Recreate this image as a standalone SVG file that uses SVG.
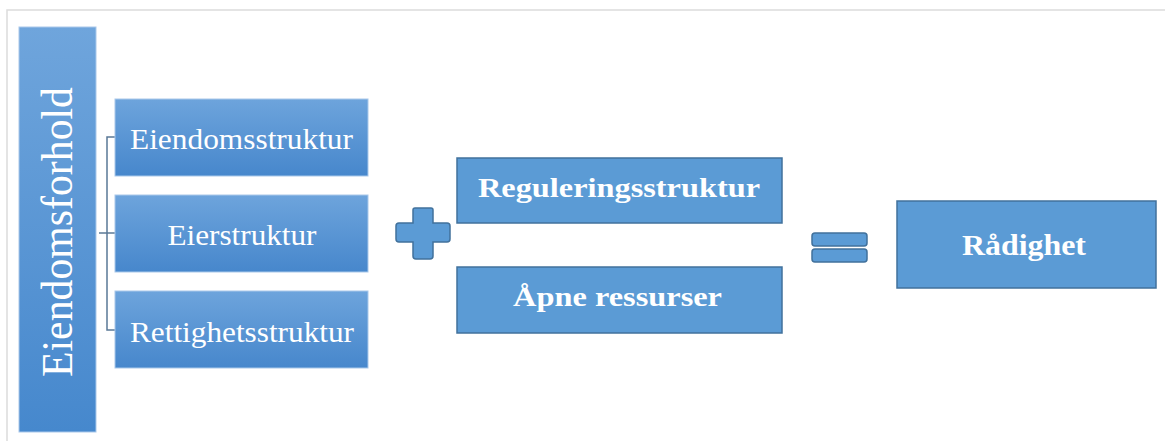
<svg xmlns="http://www.w3.org/2000/svg" width="1165" height="441" viewBox="0 0 1165 441">
<defs>
<linearGradient id="gv" x1="0" y1="0" x2="0" y2="1">
<stop offset="0" stop-color="#6fa5dc"/>
<stop offset="1" stop-color="#4688cd"/>
</linearGradient>
<linearGradient id="gb" x1="0" y1="0" x2="0" y2="1">
<stop offset="0" stop-color="#6da4dc"/>
<stop offset="1" stop-color="#4787cc"/>
</linearGradient>
<style>
.frame{stroke:#dcdcdc;stroke-width:1.5;fill:none}
.grad{fill:url(#gb);stroke:#a9c8ea;stroke-width:1}
.flat{fill:#5b9bd5;stroke:#41719c;stroke-width:1.5}
.sym{fill:#5b9bd5;stroke:#41719c;stroke-width:1.5}
.t{font-family:"Liberation Serif","Times New Roman",serif;fill:#ffffff;text-anchor:middle}
.b{font-weight:bold}
.br{stroke:#5a7896;stroke-width:1.5;fill:none}
</style>
</defs>
<rect width="1165" height="441" fill="#ffffff"/>
<path class="frame" d="M7,441 V10 H1165"/>

<g id="eiendomsforhold">
<rect x="19" y="27" width="77" height="405" fill="url(#gv)" stroke="#a9c8ea" stroke-width="1"/>
<text class="t" transform="translate(72,232) rotate(-90)" x="0" y="0" font-size="45" textLength="290" lengthAdjust="spacingAndGlyphs">Eiendomsforhold</text>
</g>

<g id="connectors">
<path class="br" d="M115,137 H107 V330 H115"/>
<path class="br" d="M99,233 H115"/>
</g>

<g id="eiendomsstruktur">
<rect class="grad" x="115" y="99" width="253" height="77"/>
<text class="t" x="241.5" y="149" font-size="29" textLength="223" lengthAdjust="spacingAndGlyphs">Eiendomsstruktur</text>
</g>
<g id="eierstruktur">
<rect class="grad" x="115" y="195" width="253" height="77"/>
<text class="t" x="242" y="245" font-size="29" textLength="149" lengthAdjust="spacingAndGlyphs">Eierstruktur</text>
</g>
<g id="rettighetsstruktur">
<rect class="grad" x="115" y="291" width="253" height="77"/>
<text class="t" x="242" y="342" font-size="29" textLength="224" lengthAdjust="spacingAndGlyphs">Rettighetsstruktur</text>
</g>

<g id="plus">
<path class="sym" d="M415,208 H431 Q433,208 433,210 V223 H447 Q450,223 450,226 V239 Q450,242 447,242 H433 V256 Q433,259 430,259 H416 Q413,259 413,256 V242 H399 Q396,242 396,239 V226 Q396,223 399,223 H413 V210 Q413,208 415,208 Z"/>
</g>

<g id="reguleringsstruktur">
<rect class="flat" x="457" y="158" width="325" height="65"/>
<text class="t b" x="619" y="197" font-size="28" textLength="282" lengthAdjust="spacingAndGlyphs">Reguleringsstruktur</text>
</g>
<g id="apne-ressurser">
<rect class="flat" x="457" y="267" width="325" height="66"/>
<text class="t b" x="617.5" y="306" font-size="28" textLength="209" lengthAdjust="spacingAndGlyphs">Åpne ressurser</text>
</g>

<g id="equals">
<rect class="sym" x="812" y="233" width="55" height="13" rx="3"/>
<rect class="sym" x="812" y="249" width="55" height="13" rx="3"/>
</g>

<g id="radighet">
<rect class="flat" x="897" y="201" width="259" height="87"/>
<text class="t b" x="1024" y="255" font-size="29" textLength="124" lengthAdjust="spacingAndGlyphs">Rådighet</text>
</g>
</svg>
